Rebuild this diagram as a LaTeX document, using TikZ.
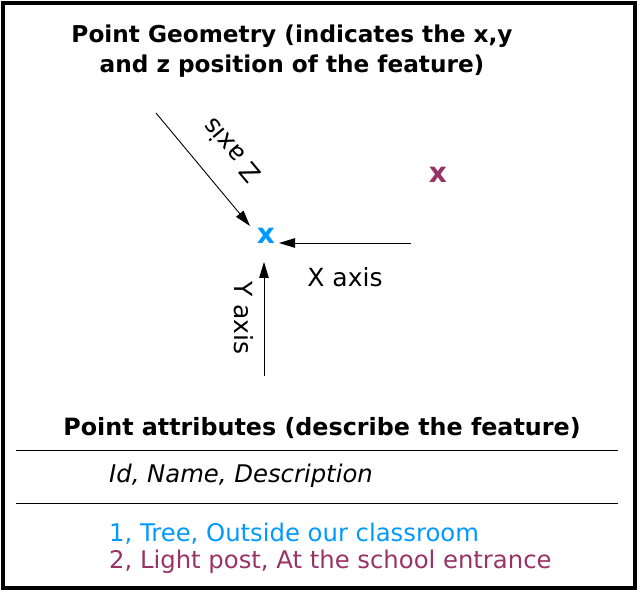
\documentclass[tikz,border=0pt]{standalone}
\usepackage{fontspec}
\setmainfont{DejaVu Sans}
\usetikzlibrary{arrows.meta}
\definecolor{ptblue}{HTML}{0099FF}
\definecolor{ptpurple}{HTML}{993366}
\tikzset{
  axisarrow/.style={draw=black, line width=0.9pt, -{Triangle[length=16pt,width=9.5pt]}},
  axislabel/.style={font=\fontsize{25}{29}\selectfont, inner sep=0pt},
  titletext/.style={font=\fontsize{23.2}{30}\selectfont\bfseries, align=center, inner sep=0pt},
  bodytext/.style={font=\fontsize{24.3}{28}\selectfont, anchor=west, inner sep=0pt},
  rulestyle/.style={draw=black, line width=0.9pt},
  ptmark/.style={font=\fontsize{28}{32}\selectfont\bfseries, inner sep=0pt}
}
\begin{document}
\begin{tikzpicture}[x=1pt,y=-1pt]
\useasboundingbox (0,0) rectangle (639,593);
\draw[line width=4pt] (3,3) rectangle (635,588);
\node[titletext] (title) at (292,51) {Point Geometry (indicates the x,y\\and z position of the feature)};
% points
\node[ptmark, text=ptblue] (p1) at (266,236) {x};
\node[ptmark, text=ptpurple] (p2) at (438,175) {x};
% axes
\coordinate (zs) at (156,113);
\coordinate (ze) at (250,226);
\coordinate (xs) at (411,243);
\coordinate (xe) at (279,243);
\coordinate (ys) at (264,376);
\coordinate (ye) at (264,262);
\draw[axisarrow] (zs) -- (ze);
\draw[axisarrow] (xs) -- (xe);
\draw[axisarrow] (ys) -- (ye);
\node[axislabel, rotate=130] (zl) at (231,151) {Z axis};
\node[axislabel] (xl) at (345,277) {X axis};
\node[axislabel, rotate=-90] (yl) at (244,318) {Y axis};
% attributes
\node[titletext, font=\fontsize{23.8}{30}\selectfont\bfseries] (atitle) at (322,428) {Point attributes (describe the feature)};
\coordinate (r1a) at (16,450);
\coordinate (r1b) at (618,450);
\coordinate (r2a) at (16,503);
\coordinate (r2b) at (618,503);
\draw[rulestyle] (r1a) -- (r1b);
\draw[rulestyle] (r2a) -- (r2b);
\node[bodytext, font=\fontsize{24.3}{28}\selectfont\itshape] (hdr) at (109,476) {Id, Name, Description};
\node[bodytext, text=ptblue] (row1) at (109,534) {1, Tree, Outside our classroom};
\node[bodytext, text=ptpurple] (row2) at (109,562) {2, Light post, At the school entrance};
\end{tikzpicture}
\end{document}
